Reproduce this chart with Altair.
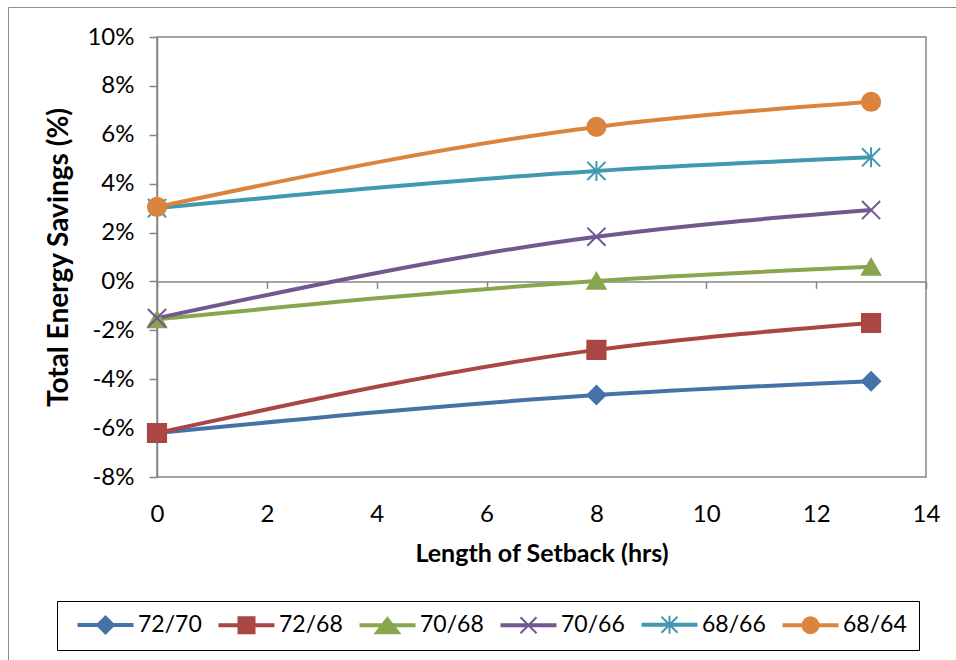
import altair as alt
import pandas as pd

# ---- data ----
hours = [0, 8, 13]
series_names = ["72/70", "72/68", "70/68", "70/66", "68/66", "68/64"]
s_72_70 = [-6.2, -4.65, -4.08]
s_72_68 = [-6.2, -2.8, -1.7]
s_70_68 = [-1.55, 0.02, 0.6]
s_70_66 = [-1.5, 1.83, 2.92]
s_68_66 = [3.0, 4.52, 5.08]
s_68_64 = [3.05, 6.32, 7.35]
colors = ["#4572A7", "#AA4643", "#89A54E", "#71588F", "#4198AF", "#DB843D"]
x_ticks = [0, 2, 4, 6, 8, 10, 12, 14]
y_ticks = [-8, -6, -4, -2, 0, 2, 4, 6, 8, 10]

all_values = [s_72_70, s_72_68, s_70_68, s_70_66, s_68_66, s_68_64]
df = pd.DataFrame({
    "hours": hours * len(series_names),
    "savings": [v for vals in all_values for v in vals],
    "series": [n for n in series_names for _ in hours],
})

# ---- styles ----
W, H = 769, 440
GRAY = "#868686"
X_PATH = "M-1,-1L1,1M-1,1L1,-1"
AST_PATH = "M-1,-1L1,1M-1,1L1,-1M0,-1.1L0,1.1"
plot_shapes = ["diamond", "square", "triangle-up", X_PATH, AST_PATH, "circle"]
plot_sizes = [330, 330, 340, 380, 380, 310]

line_path = "M-2.7,-0.1L2.7,-0.1L2.7,0.1L-2.7,0.1Z"
legend_markers = [
    "M0,-0.85L0.85,0L0,0.85L-0.85,0Z",
    "M-0.8,-0.8L0.8,-0.8L0.8,0.8L-0.8,0.8Z",
    "M0,-0.75L1.2,0.8L-1.2,0.8Z",
    "M-0.8,-0.8L0.8,0.8M-0.8,0.8L0.8,-0.8",
    "M-0.8,-0.8L0.8,0.8M-0.8,0.8L0.8,-0.8M0,-0.9L0,0.9",
    "M-0.8,0A0.8,0.8 0 1,0 0.8,0A0.8,0.8 0 1,0 -0.8,0Z",
]
legend_paths = [line_path + m for m in legend_markers]

legend = alt.Legend(
    title=None, orient="none", legendX=-100, legendY=564,
    direction="horizontal", columns=6, columnPadding=8, padding=12,
    symbolSize=400, symbolStrokeWidth=2, symbolOffset=25, labelOffset=21,
    labelFont="Lato", labelFontSize=23, labelColor="black",
    strokeColor="black", symbolOpacity=1,
)

x_enc = alt.X(
    "hours:Q",
    scale=alt.Scale(domain=[0, 14], nice=False),
    axis=alt.Axis(
        values=x_ticks, title="Length of Setback (hrs)", grid=False,
        offset=-round(H * 8 / 18, 1), tickSize=7, labelPadding=214,
        labelFlush=False, titlePadding=60, titleFontSize=25, zindex=0,
    ),
)
y_enc = alt.Y(
    "savings:Q",
    scale=alt.Scale(domain=[-8, 10], nice=False),
    axis=alt.Axis(
        values=y_ticks, labelExpr="datum.value + '%'",
        title="Total Energy Savings (%)", grid=False, tickSize=8,
        labelPadding=15, labelFlush=False, titlePadding=13, titleFontSize=28, zindex=0,
    ),
)

frame = alt.Chart(pd.DataFrame({"f": [0]})).mark_rect(
    fillOpacity=0, stroke="#8C8C8C", strokeWidth=1
).encode(
    x=alt.value(-148.5), x2=alt.value(900), y=alt.value(-29.5), y2=alt.value(700)
)

lines = alt.Chart(df).mark_line(strokeWidth=4, interpolate="monotone").encode(
    x=x_enc, y=y_enc,
    color=alt.Color("series:N", scale=alt.Scale(domain=series_names, range=colors), legend=None),
)

points = alt.Chart(df).mark_point(filled=True, strokeWidth=2, opacity=1).encode(
    x=x_enc, y=y_enc,
    color=alt.Color("series:N", scale=alt.Scale(domain=series_names, range=colors), legend=None),
    stroke=alt.Stroke("series:N", scale=alt.Scale(domain=series_names, range=colors), legend=None),
    shape=alt.Shape("series:N", scale=alt.Scale(domain=series_names, range=plot_shapes), legend=None),
    size=alt.Size("series:N", scale=alt.Scale(domain=series_names, range=plot_sizes), legend=None),
)

legend_layer = alt.Chart(df).transform_filter("false").mark_point(
    filled=True, strokeWidth=2, size=400
).encode(
    x=x_enc, y=y_enc,
    color=alt.Color("series:N", scale=alt.Scale(domain=series_names, range=colors), legend=legend),
    stroke=alt.Stroke("series:N", scale=alt.Scale(domain=series_names, range=colors), legend=legend),
    shape=alt.Shape("series:N", scale=alt.Scale(domain=series_names, range=legend_paths), legend=legend),
)

chart = alt.layer(frame, lines, points, legend_layer).resolve_scale(
    color="independent", stroke="independent", shape="independent", size="independent"
).properties(
    width=W, height=H,
    autosize=alt.AutoSizeParams(type="none"),
    padding={"left": 157, "top": 37, "right": 30, "bottom": 183},
).configure(font="Lato").configure_view(
    stroke=GRAY, strokeWidth=1.5
).configure_axis(
    domainColor=GRAY, domainWidth=1.5, tickColor=GRAY, tickWidth=1.5,
    labelFont="Lato", labelFontSize=24, labelColor="black",
    titleFont="Lato", titleFontWeight="bold", titleColor="black",
)

chart.save("out.html", embed_options={"renderer": "svg", "actions": False})
